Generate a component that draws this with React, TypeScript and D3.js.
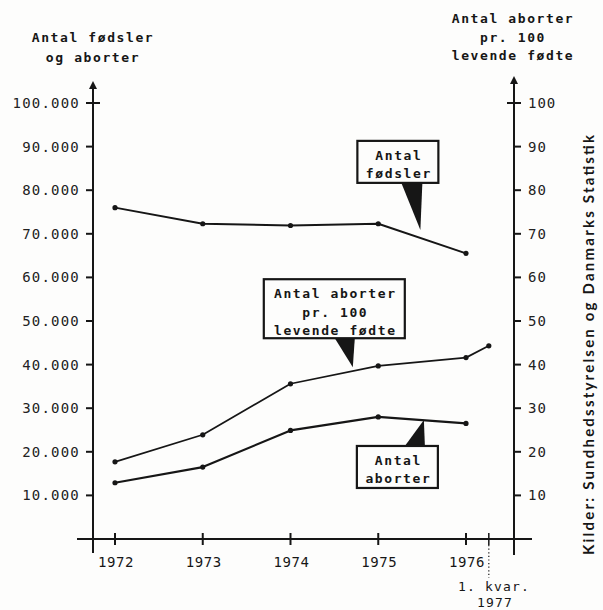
import * as d3 from "d3";
import { useEffect, useRef } from "react";

const YEARS = [1972, 1973, 1974, 1975, 1976];
const YEAR_LABELS = ["1972", "1973", "1974", "1975", "1976"];
// 1. kvartal 1977 is drawn just right of 1976
const Q1_1977 = 1976.26;

const BIRTHS = [76000, 72300, 71900, 72300, 65500];
const ABORTIONS = [12900, 16500, 24900, 28000, 26500];
const RATE_X = [...YEARS, Q1_1977];
const RATE = [17.7, 23.9, 35.6, 39.7, 41.6, 44.3];

const LEFT_TICKS = [10000, 20000, 30000, 40000, 50000, 60000, 70000, 80000, 90000, 100000];
const RIGHT_TICKS = [10, 20, 30, 40, 50, 60, 70, 80, 90, 100];

const MONO = "'DejaVu Sans Mono', 'Liberation Mono', monospace";
const INK = "#161616";

export default function App() {
  const svgRef = useRef<SVGSVGElement>(null);

  useEffect(() => {
    if (!svgRef.current) return;
    const svg = d3.select(svgRef.current);
    svg.selectAll("*").remove();

    const width = 603;
    const height = 610;
    svg.attr("viewBox", `0 0 ${width} ${height}`);
    svg.append("rect").attr("width", width).attr("height", height).attr("fill", "#fdfdfc");

    const x = d3.scaleLinear().domain([1972, 1976]).range([115, 466]);
    const yLeft = d3.scaleLinear().domain([0, 100000]).range([539, 103]);
    const yRight = d3.scaleLinear().domain([0, 100]).range([539, 103]);

    const leftX = 93;
    const rightX = 514;
    const baseY = yLeft(0);

    const g = svg.append("g").attr("stroke", INK).attr("fill", "none");

    // axes
    g.append("line").attr("x1", 77).attr("x2", 532).attr("y1", baseY).attr("y2", baseY).attr("stroke-width", 2);
    g.append("line").attr("x1", leftX).attr("x2", leftX).attr("y1", 553).attr("y2", 86).attr("stroke-width", 2);
    g.append("line").attr("x1", rightX).attr("x2", rightX).attr("y1", 555).attr("y2", 81).attr("stroke-width", 2);
    const arrow = (cx: number, tip: number) =>
      svg
        .append("path")
        .attr("d", `M${cx},${tip} L${cx - 4},${tip + 8} L${cx + 4},${tip + 8} Z`)
        .attr("fill", INK);
    arrow(leftX, 81);
    arrow(rightX, 76);

    // left ticks
    LEFT_TICKS.forEach((t) => {
      const y = yLeft(t);
      g.append("line")
        .attr("x1", leftX - 7)
        .attr("x2", t === 100000 ? leftX + 7 : leftX)
        .attr("y1", y)
        .attr("y2", y)
        .attr("stroke-width", 2);
    });
    svg
      .append("g")
      .selectAll("text")
      .data(LEFT_TICKS)
      .join("text")
      .attr("x", 80)
      .attr("y", (d) => yLeft(d) + 5)
      .attr("text-anchor", "end")
      .attr("font-family", MONO)
      .attr("font-size", 14)
      .attr("letter-spacing", 1.2)
      .attr("fill", "#222")
      .text((d) => d3.format(",")(d).replace(/,/g, "."));

    // right ticks
    RIGHT_TICKS.forEach((t) => {
      const y = yRight(t);
      g.append("line")
        .attr("x1", t === 100 ? rightX - 7 : rightX)
        .attr("x2", rightX + 7)
        .attr("y1", y)
        .attr("y2", y)
        .attr("stroke-width", 2);
    });
    svg
      .append("g")
      .selectAll("text")
      .data(RIGHT_TICKS)
      .join("text")
      .attr("x", 528)
      .attr("y", (d) => yRight(d) + 5)
      .attr("font-family", MONO)
      .attr("font-size", 14)
      .attr("letter-spacing", 1)
      .attr("fill", "#222")
      .text((d) => String(d));

    // x ticks
    YEARS.forEach((yr) => {
      g.append("line").attr("x1", x(yr)).attr("x2", x(yr)).attr("y1", baseY - 6).attr("y2", baseY + 6).attr("stroke-width", 2);
    });
    g.append("line").attr("x1", x(Q1_1977)).attr("x2", x(Q1_1977)).attr("y1", baseY - 6).attr("y2", baseY + 6).attr("stroke-width", 1.5);
    g.append("line")
      .attr("x1", x(Q1_1977))
      .attr("x2", x(Q1_1977))
      .attr("y1", baseY + 6)
      .attr("y2", 578)
      .attr("stroke-width", 1.2)
      .attr("stroke-dasharray", "1.2,2.4");
    svg
      .append("g")
      .selectAll("text")
      .data(YEARS)
      .join("text")
      .attr("x", (d) => x(d) + 1)
      .attr("y", 567)
      .attr("text-anchor", "middle")
      .attr("font-family", MONO)
      .attr("font-size", 14)
      .attr("letter-spacing", 0.6)
      .attr("fill", INK)
      .text((_, i) => YEAR_LABELS[i]);
    const q = svg
      .append("text")
      .attr("text-anchor", "middle")
      .attr("font-family", MONO)
      .attr("font-size", 13)
      .attr("letter-spacing", 1.2)
      .attr("fill", INK);
    q.append("tspan").attr("x", 494).attr("y", 591).text("1. kvar.");
    q.append("tspan").attr("x", 495).attr("y", 607).text("1977");

    // series
    const lineGen = (xs: number[], ys: number[], yScale: d3.ScaleLinear<number, number>) =>
      d3
        .line<number>()
        .x((_, i) => x(xs[i]))
        .y((v) => yScale(v))(ys);

    const series: [number[], number[], d3.ScaleLinear<number, number>, number][] = [
      [YEARS, BIRTHS, yLeft, 2],
      [YEARS, ABORTIONS, yLeft, 2.2],
      [RATE_X, RATE, yRight, 1.7],
    ];
    series.forEach(([xs, ys, ys2, w]) => {
      g.append("path").attr("d", lineGen(xs, ys, ys2)).attr("stroke-width", w).attr("stroke-linejoin", "round");
      svg
        .append("g")
        .selectAll("circle")
        .data(ys)
        .join("circle")
        .attr("cx", (_, i) => x(xs[i]))
        .attr("cy", (v) => ys2(v))
        .attr("r", 2.6)
        .attr("fill", INK);
    });

    // axis titles
    const title = (cx: number, lines: [string, number][]) => {
      const t = svg
        .append("text")
        .attr("text-anchor", "middle")
        .attr("font-family", MONO)
        .attr("font-size", 13)
        .attr("font-weight", "bold")
        .attr("letter-spacing", 1.6)
        .attr("fill", INK);
      lines.forEach(([s, y]) => t.append("tspan").attr("x", cx).attr("y", y).text(s));
    };
    title(93, [["Antal fødsler", 42], ["og aborter", 62]]);
    title(513, [["Antal aborter", 23], ["pr. 100", 42], ["levende fødte", 60]]);

    // labelled callouts: tip at a data point, box offset from it
    const callouts: { year: number; value: number; scale: d3.ScaleLinear<number, number>; box: number[]; wedge: number[]; lines: string[] }[] = [
      { year: 1975.48, value: 70900, scale: yLeft, box: [-63, -89, 81, 42], wedge: [-19, 2, -47], lines: ["Antal", "fødsler"] },
      { year: 1974.71, value: 39.4, scale: yRight, box: [-89, -88, 141, 59], wedge: [-18, 2, -29], lines: ["Antal aborter", "pr. 100", "levende fødte"] },
      { year: 1975.52, value: 27300, scale: yLeft, box: [-67, 26, 81, 42], wedge: [-19, 1, 26], lines: ["Antal", "aborter"] },
    ];
    callouts.forEach((c) => {
      const tx = x(c.year);
      const ty = c.scale(c.value);
      const [bx, by, bw, bh] = c.box;
      const [wl, wr, wy] = c.wedge;
      svg
        .append("path")
        .attr("d", `M${tx + wl},${ty + wy} L${tx + wr},${ty + wy} L${tx},${ty} Z`)
        .attr("fill", INK);
      svg
        .append("rect")
        .attr("x", tx + bx)
        .attr("y", ty + by)
        .attr("width", bw)
        .attr("height", bh)
        .attr("fill", "#fdfdfc")
        .attr("stroke", INK)
        .attr("stroke-width", 2.2);
      const t = svg
        .append("text")
        .attr("text-anchor", "middle")
        .attr("font-family", MONO)
        .attr("font-size", 13)
        .attr("font-weight", "bold")
        .attr("letter-spacing", 1.6)
        .attr("fill", INK);
      c.lines.forEach((s, i) =>
        t
          .append("tspan")
          .attr("x", tx + bx + bw / 2 + 1)
          .attr("y", ty + by + 19 + i * 18.5)
          .text(s),
      );
    });

    // source
    svg
      .append("text")
      .attr("transform", "translate(594,345) rotate(-90)")
      .attr("text-anchor", "middle")
      .attr("font-family", "Lato, 'Open Sans', sans-serif")
      .attr("font-weight", "bold")
      .attr("font-size", 15)
      .attr("textLength", 420)
      .attr("lengthAdjust", "spacing")
      .attr("fill", INK)
      .text("Kilder:  Sundhedsstyrelsen  og  Danmarks Statistik");
  }, []);

  return (
    <svg
      ref={svgRef}
      width={603}
      height={610}
      style={{ position: "absolute", left: 0, top: 0 }}
    />
  );
}
